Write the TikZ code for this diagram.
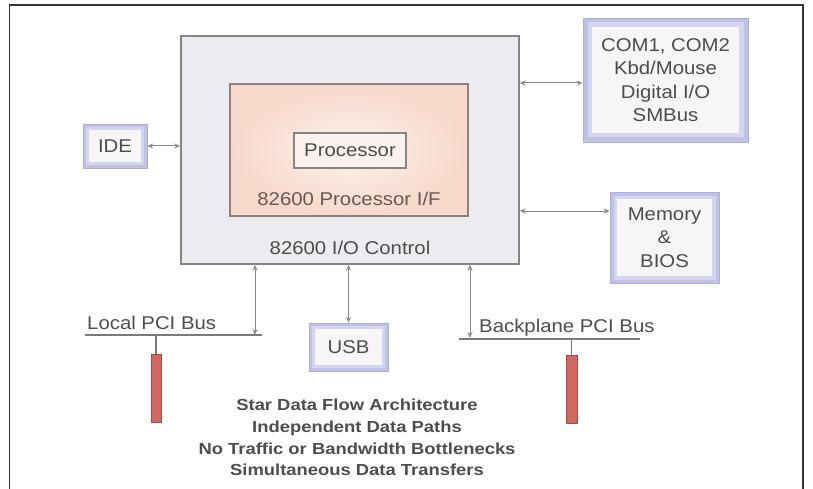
\documentclass[tikz,border=0pt]{standalone}
\usepackage{fontspec}
\setmainfont{Liberation Sans}[FakeStretch=1.1]
\newfontfamily\notefont{Liberation Sans}[FakeStretch=1.15]
\usetikzlibrary{arrows.meta}

\definecolor{textgray}{HTML}{4D4D4D}
\definecolor{pifText}{HTML}{6A5853}
\definecolor{mainfill}{HTML}{ECEBF0}
\definecolor{maindraw}{HTML}{858585}
\definecolor{pifouter}{HTML}{F7D8CA}
\definecolor{pifinner}{HTML}{FDF2EC}
\definecolor{pifdraw}{HTML}{8C8080}
\definecolor{procfill}{HTML}{FBF2ED}
\definecolor{lavA}{HTML}{C0C1E4}
\definecolor{lavB}{HTML}{D4D5EF}
\definecolor{lavC}{HTML}{AEAFD9}
\definecolor{boxin}{HTML}{F7F5F6}
\definecolor{arrowgray}{HTML}{8A8A8A}
\definecolor{busgray}{HTML}{7A7A7A}
\definecolor{stickred}{HTML}{D2675F}
\definecolor{stickdraw}{HTML}{A84C46}

\begin{document}
\begin{tikzpicture}[x=1pt,y=-1pt,
  lbl/.style={font=\fontsize{18.5}{23.5}\selectfont, text=textgray, align=center, inner sep=0pt},
  note/.style={font=\notefont\bfseries\fontsize{16}{21.7}\selectfont, text=textgray, align=center, inner sep=0pt},
  mainbox/.style={rectangle, fill=mainfill, draw=maindraw, line width=1.5pt, inner sep=0pt},
  ifbox/.style={rectangle, inner color=pifinner, outer color=pifouter, draw=pifdraw, line width=1.2pt, inner sep=0pt},
  procbox/.style={rectangle, fill=procfill, draw=maindraw, line width=1.2pt, inner sep=0pt},
  frame/.style={rectangle, fill=lavA, draw=lavC, line width=0.6pt, inner sep=0pt,
    path picture={
      \fill[lavB] ([shift={(#1/2,#1/2)}]path picture bounding box.north west)
        rectangle ([shift={(-#1/2,-#1/2)}]path picture bounding box.south east);
      \fill[boxin] ([shift={(#1,#1)}]path picture bounding box.north west)
        rectangle ([shift={(-#1,-#1)}]path picture bounding box.south east);}},
  biarrow/.style={draw=arrowgray, line width=1pt,
    {Stealth[length=6pt,width=5pt]}-{Stealth[length=6pt,width=5pt]}},
  busline/.style={draw=busgray, line width=1.2pt},
  stick/.style={rectangle, fill=stickred, draw=stickdraw, line width=0.8pt, inner sep=0pt}]

  % canvas and the open outer frame
  \useasboundingbox (0,0) rectangle (813,489);
  \fill[white] (0,0) rectangle (813,489);
  \draw[draw=black!80, line width=1.3pt] (9.5,489) -- (9.5,5) -- (803,5) -- (803,489);

  % I/O controller with the processor interface inside
  \node[mainbox, minimum width=338, minimum height=228] (main) at (350,150) {};
  \node[ifbox, minimum width=238, minimum height=132] (pif) at (349,150) {};
  \node[procbox, lbl, minimum width=112, minimum height=35] (proc) at (350,150.5) {Processor};
  \node[lbl, text=pifText] (piflabel) at (349,199) {82600 Processor I/F};
  \node[lbl] (mainlabel) at (350,248) {82600 I/O Control};

  % peripheral blocks
  \node[frame=9, lbl, minimum width=165, minimum height=124] (com) at (665.5,80)
    {COM1, COM2\\Kbd/Mouse\\Digital I/O\\SMBus};
  \node[frame=7, lbl, minimum width=109, minimum height=91] (mem) at (664.5,237.5)
    {Memory\\\&\\BIOS};
  \node[frame=6, lbl, minimum width=64, minimum height=44] (ide) at (115,146) {IDE};
  \node[frame=6, lbl, minimum width=79, minimum height=48] (usb) at (348.5,347) {USB};

  % links to the peripherals
  \draw[biarrow] (ide.east) -- (ide.east -| main.west);
  \draw[biarrow] ([yshift=-3pt]com.west -| main.east) -- ([yshift=-3pt]com.west);
  \draw[biarrow] ([yshift=26.5pt]mem.west -| main.east) -- ([yshift=26.5pt]mem.west);
  \draw[biarrow] (usb.north |- main.south) -- (usb.north);

  % local PCI bus
  \coordinate (lbusL) at (85,335);
  \coordinate (lbusR) at (262,335);
  \coordinate (ltap) at (255,335);
  \draw[busline] (lbusL) -- (lbusR);
  \draw[biarrow] (ltap |- main.south) -- (ltap);
  \node[lbl, anchor=base west] (lpci) at (87,329) {Local PCI Bus};
  \node[stick, minimum width=10, minimum height=68] (lstick) at (156,388) {};
  \draw[busline] (lstick.north |- lbusL) -- (lstick.north);

  % backplane PCI bus
  \coordinate (bbusL) at (459,339);
  \coordinate (bbusR) at (640,339);
  \coordinate (btap) at (470,338);
  \draw[busline] (bbusL) -- (bbusR);
  \draw[biarrow] (btap |- main.south) -- (btap);
  \node[lbl, anchor=base west] (bpci) at (479,332.5) {Backplane PCI Bus};
  \node[stick, minimum width=11, minimum height=68] (rstick) at (571.5,389) {};
  \draw[busline] (rstick.north |- bbusL) -- (rstick.north);

  % feature list
  \node[note] (notes) at (357,437.5)
    {Star Data Flow Architecture\\Independent Data Paths\\No Traffic or Bandwidth Bottlenecks\\Simultaneous Data Transfers};
\end{tikzpicture}
\end{document}
